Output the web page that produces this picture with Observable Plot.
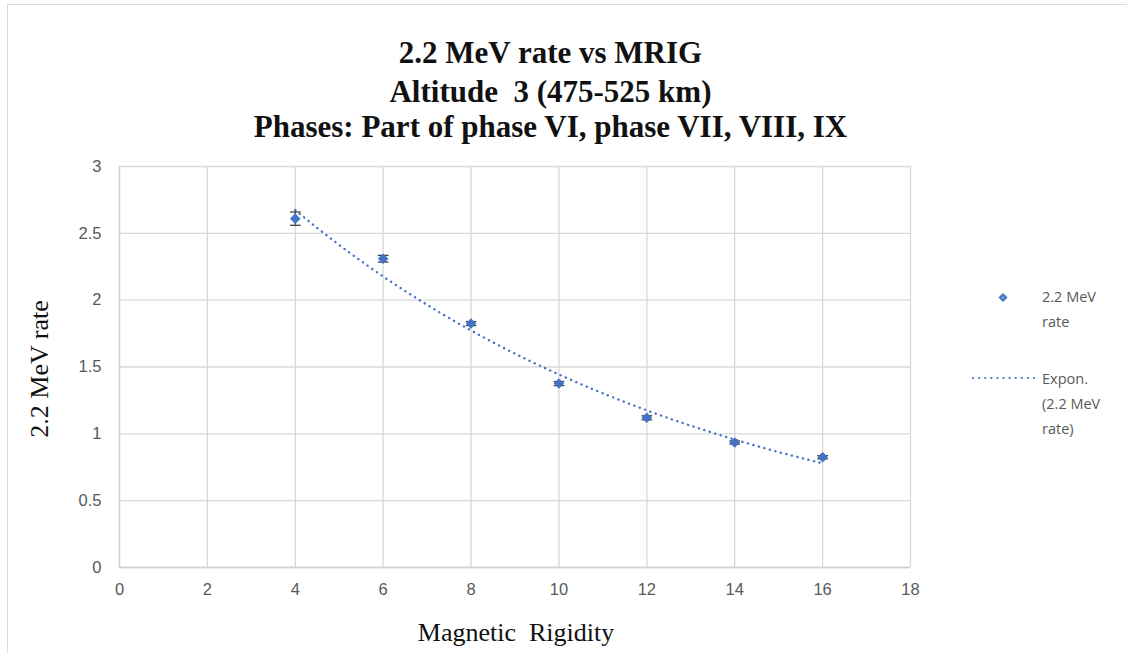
<!DOCTYPE html>
<html>
<head>
<meta charset="utf-8">
<script src="https://cdn.jsdelivr.net/npm/d3@7"></script>
<script src="https://cdn.jsdelivr.net/npm/@observablehq/plot@0.6"></script>
<style>
  html, body { margin: 0; padding: 0; background: #fff; }
  #wrap { position: relative; width: 1127px; height: 653px; overflow: hidden; background: #fff; }
  #frame { position: absolute; left: 7px; top: 4px; width: 1200px; height: 700px;
           border-top: 1.5px solid #d9d9d9; border-left: 1.5px solid #d9d9d9; }
  .title { position: absolute; left: -13px; width: 1127px; text-align: center;
           font-family: "Liberation Serif", "DejaVu Serif", serif; font-weight: bold;
           font-size: 31px; line-height: 36px; color: #111; white-space: nowrap; }
  .axlabel { position: absolute; font-family: "Liberation Serif", "DejaVu Serif", serif;
             font-size: 26px; line-height: 30px; color: #111; white-space: nowrap; }
  .leg { position: absolute; font-family: "Open Sans", "DejaVu Sans", sans-serif;
         font-size: 14.5px; color: #595959; line-height: 25px; white-space: nowrap; }
  #chart { position: absolute; left: 0; top: 0; }
</style>
</head>
<body>
<div id="wrap">
  <div id="frame"></div>
  <div id="chart"></div>
  <div class="title" style="top:35px;">2.2 MeV rate vs MRIG</div>
  <div class="title" style="top:74px;">Altitude&nbsp; 3 (475-525 km)</div>
  <div class="title" style="top:109px;">Phases: Part of phase VI, phase VII, VIII, IX</div>
  <div class="axlabel" style="left:516px; top:618px; transform: translate(-50%,0);">Magnetic&nbsp; Rigidity</div>
  <div class="axlabel" style="left:40px; top:369px; transform: translate(-50%,-50%) rotate(-90deg);">2.2 MeV rate</div>
  <svg style="position:absolute; left:991px; top:288px;" width="24" height="20">
    <path d="M12 5.5 L16 9.5 L12 13.5 L8 9.5 Z" fill="#4472C4" stroke="#4472C4" stroke-width="1"/>
    <circle cx="12" cy="9.5" r="1.2" fill="#8fa9dc"/>
  </svg>
  <div class="leg" style="left:1042px; top:284px;">2.2 MeV<br>rate</div>
  <svg style="position:absolute; left:968px; top:370px;" width="70" height="16">
    <line x1="5" y1="8" x2="66" y2="8" stroke="#4472C4" stroke-width="2.2" stroke-dasharray="0.1 6" stroke-linecap="round"/>
  </svg>
  <div class="leg" style="left:1042px; top:366px;">Expon.<br>(2.2 MeV<br>rate)</div>
</div>
<script>
// Data
const rigidity = [4, 6, 8, 10, 12, 14, 16];
const rate     = [2.61, 2.31, 1.825, 1.376, 1.12, 0.935, 0.825];
const rateErr  = [0.05, 0.025, 0.015, 0.015, 0.015, 0.012, 0.012];
const xTicks = [0, 2, 4, 6, 8, 10, 12, 14, 16, 18];
const yTicks = [0, 0.5, 1, 1.5, 2, 2.5, 3];

const rows = rigidity.map((x, i) => ({x, y: rate[i], lo: rate[i] - rateErr[i], hi: rate[i] + rateErr[i]}));

// Exponential trendline (least squares on ln y), like a spreadsheet "Expon." fit
const lnY = rate.map(Math.log);
const mx = d3.mean(rigidity), my = d3.mean(lnY);
const slope = d3.sum(rigidity, (x, i) => (x - mx) * (lnY[i] - my)) / d3.sum(rigidity, x => (x - mx) ** 2);
const icpt = my - slope * mx;
const [x0, x1] = d3.extent(rigidity);
const trend = d3.range(0, 121).map(k => {
  const x = x0 + (x1 - x0) * k / 120;
  return {x, y: Math.exp(icpt + slope * x)};
});

const capSymbol = { draw(ctx, size) { const r = Math.sqrt(size); ctx.moveTo(-r, 0); ctx.lineTo(r, 0); } };

const plot = Plot.plot({
  width: 1127,
  height: 653,
  marginLeft: 119,
  marginRight: 217,
  marginTop: 166,
  marginBottom: 86,
  style: { fontFamily: "'Liberation Sans Narrow', 'Liberation Sans', sans-serif", fontSize: "16.5px", color: "#595959", background: "transparent" },
  x: { domain: [0, 18], ticks: xTicks, label: null },
  y: { domain: [0, 3], ticks: yTicks, label: null },
  marks: [
    Plot.gridX(xTicks, { stroke: "#d9d9d9", strokeOpacity: 1, strokeWidth: 1.3 }),
    Plot.gridY(yTicks, { stroke: "#d9d9d9", strokeOpacity: 1, strokeWidth: 1.3 }),
    Plot.ruleX([0], { stroke: "#d0d0d0", strokeWidth: 1.3 }),
    Plot.ruleY([0], { stroke: "#d0d0d0", strokeWidth: 1.3 }),
    Plot.axisX(xTicks, { tickSize: 0, tickPadding: 16, fill: "#595959", tickFormat: d => String(d) }),
    Plot.axisY(yTicks, { tickSize: 0, tickPadding: 18, fill: "#595959", tickFormat: d => String(d) }),
    Plot.line(trend, { x: "x", y: "y", stroke: "#4472C4", strokeWidth: 2.4, strokeDasharray: "0.1 5.6", strokeLinecap: "round" }),
    Plot.ruleX(rows, { x: "x", y1: "lo", y2: "hi", stroke: "#404040", strokeWidth: 1.3 }),
    Plot.dot(rows, { x: "x", y: "lo", symbol: capSymbol, r: 3, stroke: "#404040", strokeWidth: 1.3, fill: "none" }),
    Plot.dot(rows, { x: "x", y: "hi", symbol: capSymbol, r: 3, stroke: "#404040", strokeWidth: 1.3, fill: "none" }),
    Plot.dot(rows, { x: "x", y: "y", symbol: "diamond2", r: 4, fill: "#4472C4", stroke: "#4472C4", strokeWidth: 1.2 })
  ]
});
document.getElementById("chart").appendChild(plot);
</script>
</body>
</html>
